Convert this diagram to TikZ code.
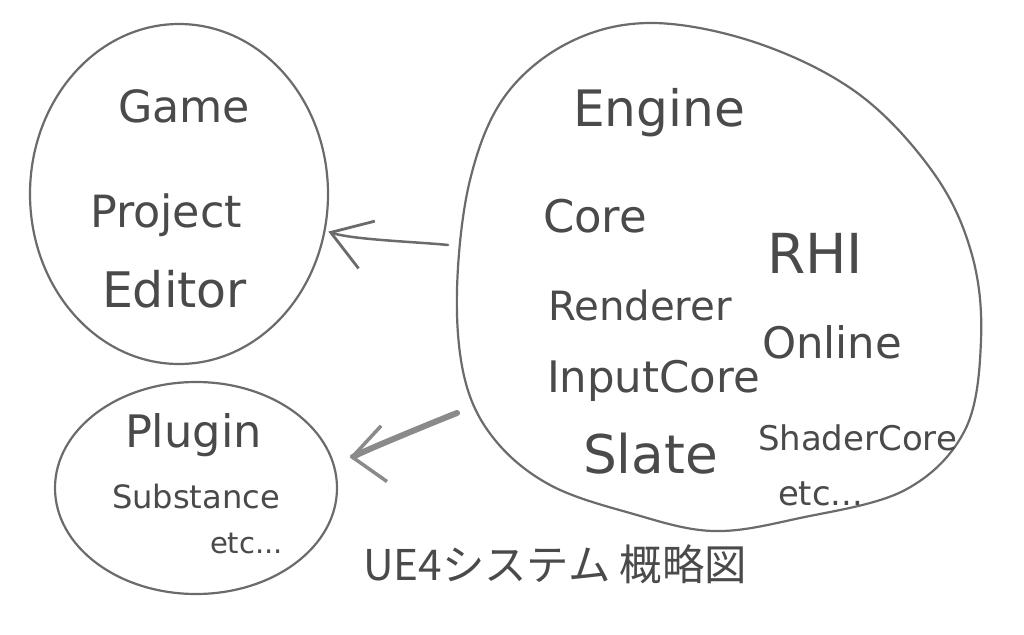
\documentclass[tikz,border=0pt]{standalone}
\usepackage{fontspec}
\setmainfont{DejaVu Sans}
\newfontfamily\jpfont{Noto Sans CJK JP}
\usepackage{graphicx}
\usetikzlibrary{shapes.geometric,arrows.meta}
\definecolor{txtgray}{HTML}{4A4A4A}
\definecolor{linegray}{HTML}{6B6B6B}
\definecolor{arrgray}{HTML}{8A8A8A}
\newcommand{\fitto}[2]{\resizebox{#1pt}{!}{#2}}
\begin{document}
\begin{tikzpicture}[x=1pt,y=-1pt,
  lbl/.style={anchor=base west,inner sep=0pt,outer sep=0pt,text=txtgray,font=\fontsize{40}{48}\selectfont},
  bubble/.style={draw=linegray,line width=2.2pt,ellipse,inner sep=0pt,outer sep=0pt},
  blob/.style={draw=linegray,line width=2.2pt},
  thinarrow/.style={draw=linegray,line width=2.5pt,line cap=round,-{Straight Barb[length=38pt,width=50pt,line width=2.8pt]}},
  thickarrow/.style={draw=arrgray,line width=6pt,line cap=round,-{Straight Barb[length=32pt,width=56pt,line width=3.5pt]}}
]
\fill[white] (0,0) rectangle (1024,634);

% containers
\node[bubble,minimum width=298pt,minimum height=340pt] (game) at (179,194) {};
\node[bubble,minimum width=282pt,minimum height=212pt] (plugin) at (196,488) {};
\draw[blob] plot[smooth cycle,tension=0.6] coordinates {
  (653,23) (760,44) (860,95) (935,175) (972,255) (981,340) (965,430)
  (905,490) (800,518) (713,531) (630,513) (550,485) (495,440) (465,380)
  (457,290) (470,180) (505,96) (570,42)};

% Game texts
\node[lbl] (tgame) at (118,122) {\fitto{132}{Game}};
\node[lbl] (tproject) at (90,227) {\fitto{152}{Project}};
\node[lbl] (teditor) at (102,307) {\fitto{145}{Editor}};

% Plugin texts
\node[lbl] (tplugin) at (125,447) {\fitto{137}{Plugin}};
\node[lbl] (tsubstance) at (112,508) {\fitto{168}{Substance}};
\node[lbl] (tetcp) at (210,553) {\fitto{73}{etc...}};

% Engine texts
\node[lbl] (tengine) at (573,126) {\fitto{172}{Engine}};
\node[lbl] (tcore) at (543,232) {\fitto{104}{Core}};
\node[lbl] (trhi) at (767,273) {\fitto{96}{RHI}};
\node[lbl] (trenderer) at (548,320) {\fitto{184}{Renderer}};
\node[lbl] (tonline) at (762,358) {\fitto{140}{Online}};
\node[lbl] (tinput) at (547,392) {\fitto{213}{InputCore}};
\node[lbl] (tslate) at (583,473) {\fitto{135}{Slate}};
\node[lbl] (tshader) at (758,450) {\fitto{199}{ShaderCore}};
\node[lbl] (tetce) at (778,505) {\fitto{85}{etc...}};

% caption
\node[lbl,font=\jpfont\fontsize{40}{48}\selectfont] (caption) at (363,580) {\fitto{384}{UE4システム 概略図}};

% arrows
\coordinate (eA) at (448,245);
\coordinate (eB) at (457,413);
\draw[thinarrow,shorten >=4pt] (eA) to[out=174,in=-19,looseness=0.6] (game.-14);
\draw[thickarrow,shorten >=18pt] (eB) to[out=201,in=6,looseness=0.3] (plugin.12);
\end{tikzpicture}
\end{document}
